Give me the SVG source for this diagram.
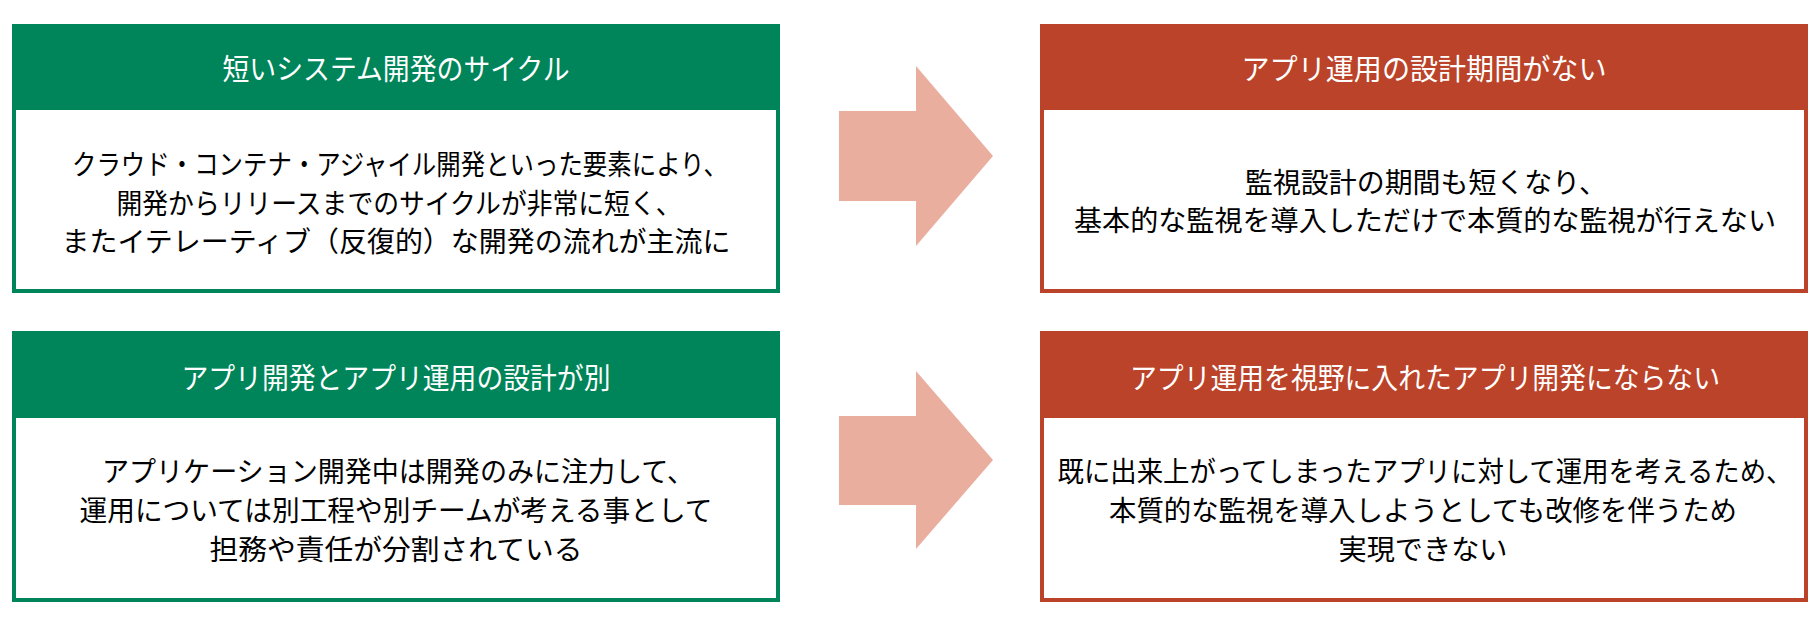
<svg xmlns="http://www.w3.org/2000/svg" width="1820" height="619" viewBox="0 0 1820 619">
<style>
.box{fill:#ffffff;stroke-width:4}
.g .box{stroke:#00855A}
.r .box{stroke:#BB4329}
.g .hd{fill:#00855A}
.r .hd{fill:#BB4329}
text{font-family:"Noto Sans CJK JP","Noto Sans",sans-serif;text-anchor:middle;dominant-baseline:central}
.ht{fill:#ffffff;font-size:29px}
.bt{fill:#000000;font-size:28px}
.arrow{fill:#EAAE9F}
</style>
<rect width="1820" height="619" fill="#ffffff"/>
<g id="box-short-cycle" class="g">
<rect class="box" x="14" y="26" width="764" height="265"/>
<rect class="hd" x="12" y="24" width="768" height="86"/>
<text class="ht" x="396" y="67" textLength="347" lengthAdjust="spacingAndGlyphs">短いシステム開発のサイクル</text>
<text class="bt" x="400" y="163" textLength="656" lengthAdjust="spacingAndGlyphs">クラウド・コンテナ・アジャイル開発といった要素により、</text>
<text class="bt" x="399" y="201.5" textLength="565" lengthAdjust="spacingAndGlyphs">開発からリリースまでのサイクルが非常に短く、</text>
<text class="bt" x="396" y="240" textLength="669" lengthAdjust="spacingAndGlyphs">またイテレーティブ（反復的）な開発の流れが主流に</text>
</g>
<g id="box-separate-design" class="g">
<rect class="box" x="14" y="333" width="764" height="267"/>
<rect class="hd" x="12" y="331" width="768" height="87"/>
<text class="ht" x="396" y="376" textLength="429" lengthAdjust="spacingAndGlyphs">アプリ開発とアプリ運用の設計が別</text>
<text class="bt" x="398" y="470" textLength="592" lengthAdjust="spacingAndGlyphs">アプリケーション開発中は開発のみに注力して、</text>
<text class="bt" x="396" y="509" textLength="633" lengthAdjust="spacingAndGlyphs">運用については別工程や別チームが考える事として</text>
<text class="bt" x="396" y="548" textLength="373" lengthAdjust="spacingAndGlyphs">担務や責任が分割されている</text>
</g>
<g id="box-no-design-period" class="r">
<rect class="box" x="1042" y="26" width="764" height="265"/>
<rect class="hd" x="1040" y="24" width="768" height="86"/>
<text class="ht" x="1424" y="67" textLength="365" lengthAdjust="spacingAndGlyphs">アプリ運用の設計期間がない</text>
<text class="bt" x="1426" y="181" textLength="362" lengthAdjust="spacingAndGlyphs">監視設計の期間も短くなり、</text>
<text class="bt" x="1425" y="219" textLength="702" lengthAdjust="spacingAndGlyphs">基本的な監視を導入しただけで本質的な監視が行えない</text>
</g>
<g id="box-not-ops-aware" class="r">
<rect class="box" x="1042" y="333" width="764" height="267"/>
<rect class="hd" x="1040" y="331" width="768" height="87"/>
<text class="ht" x="1425" y="376" textLength="590" lengthAdjust="spacingAndGlyphs">アプリ運用を視野に入れたアプリ開発にならない</text>
<text class="bt" x="1425" y="470" textLength="735" lengthAdjust="spacingAndGlyphs">既に出来上がってしまったアプリに対して運用を考えるため、</text>
<text class="bt" x="1423" y="509" textLength="628" lengthAdjust="spacingAndGlyphs">本質的な監視を導入しようとしても改修を伴うため</text>
<text class="bt" x="1423" y="548" textLength="169" lengthAdjust="spacingAndGlyphs">実現できない</text>
</g>
<g id="connectors">
<polygon class="arrow" points="839,111 916,111 916,66 993,156 916,246 916,201 839,201"/>
<polygon class="arrow" points="839,416 916,416 916,371 993,460 916,549 916,505 839,505"/>
</g>
</svg>
